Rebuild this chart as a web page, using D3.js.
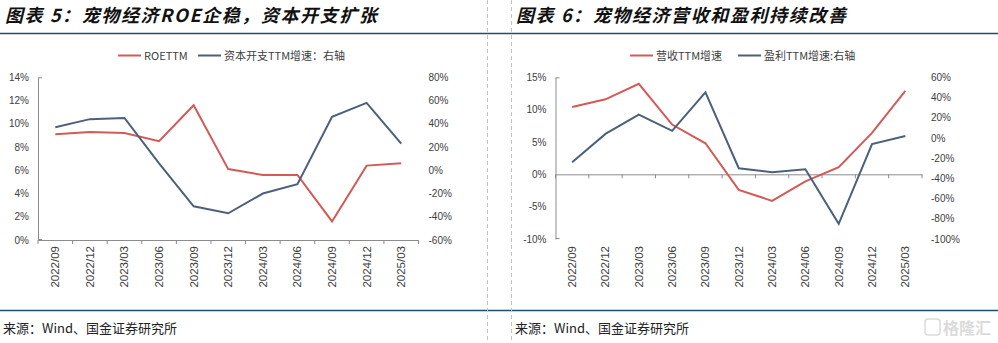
<!DOCTYPE html>
<html><head><meta charset="utf-8">
<script src="https://cdn.jsdelivr.net/npm/d3@7"></script>
<style>body{margin:0;background:#fff}svg{display:block}</style>
</head><body>
<svg id="c" width="998" height="343"></svg>
<script>
const categories = ["2022/09","2022/12","2023/03","2023/06","2023/09","2023/12","2024/03","2024/06","2024/09","2024/12","2025/03"];
// Chart 5
const roeTTM = [9.1, 9.3, 9.2, 8.5, 11.6, 6.1, 5.6, 5.6, 1.6, 6.4, 6.6];
const capexGrowth = [37, 44, 45, 6, -31, -37, -20, -12, 46, 58, 23];
const leftTicks5 = [0,2,4,6,8,10,12,14];
const rightTicks5 = [-60,-40,-20,0,20,40,60,80];
// Chart 6
const revenueGrowth = [10.4, 11.6, 14.0, 7.7, 4.8, -2.4, -4.1, -1.1, 1.1, 6.4, 12.9];
const profitGrowth = [-24, 4, 23, 7, 45, -30, -34, -31, -85, -6, 2];
const leftTicks6 = [-10,-5,0,5,10,15];
const rightTicks6 = [-100,-80,-60,-40,-20,0,20,40,60];

const RED = "#d35a56", BLUE = "#4d6079", NAVY = "#1d4e6e", AXIS = "#8c8c8c", TXT = "#404040";
const CJK = "'Noto Sans CJK SC', 'Noto Sans', sans-serif";
const LAT = "'Liberation Sans', Arial, sans-serif";
const svg = d3.select("#c");

// frame lines
svg.append("line").attr("x1",0).attr("x2",998).attr("y1",33.5).attr("y2",33.5).attr("stroke",NAVY).attr("stroke-width",1.5);
svg.append("line").attr("x1",0).attr("x2",998).attr("y1",310.5).attr("y2",310.5).attr("stroke",NAVY).attr("stroke-width",1.5);
[487.5, 511.5].forEach(x => svg.append("line").attr("x1",x).attr("x2",x).attr("y1",0).attr("y2",343)
  .attr("stroke","#c4c4c4").attr("stroke-dasharray","4,3"));

function title(x, t){
  svg.append("text").attr("x",x).attr("y",22).text(t)
    .attr("font-family",CJK).attr("font-size",18).attr("letter-spacing",1.6).attr("font-weight","bold").attr("font-style","italic").attr("fill","#111");
}
title(5, "图表 5：宠物经济ROE企稳，资本开支扩张");
title(516, "图表 6：宠物经济营收和盈利持续改善");

function source(x){
  svg.append("text").attr("x",x).attr("y",333).text("来源：Wind、国金证券研究所")
    .attr("font-family",CJK).attr("font-size",13).attr("fill","#222");
}
source(3); source(515);

function legend(items){
  items.forEach(it => {
    svg.append("line").attr("x1",it.x).attr("x2",it.x+23).attr("y1",55.5).attr("y2",55.5).attr("stroke",it.c).attr("stroke-width",2);
    svg.append("text").attr("x",it.x+26).attr("y",59.5).text(it.t).attr("font-family",CJK).attr("font-size",11).attr("fill",TXT);
  });
}
legend([{x:118,c:RED,t:"ROETTM"},{x:198,c:BLUE,t:"资本开支TTM增速：右轴"}]);
legend([{x:630,c:RED,t:"营收TTM增速"},{x:738,c:BLUE,t:"盈利TTM增速:右轴"}]);

function chart(o){
  const g = svg.append("g");
  const x = d3.scaleBand().domain(categories).range([o.x0, o.x1]);
  const yl = d3.scaleLinear().domain(o.ld).range([o.yb, o.yt]);
  const yr = d3.scaleLinear().domain(o.rd).range([o.yb, o.yt]);
  // left axis
  const la = g.append("g").attr("transform",`translate(${o.x0},0)`)
    .call(d3.axisLeft(yl).tickValues(o.lt).tickSize(0).tickPadding(9).tickFormat(d=>d+"%"));
  la.select(".domain").attr("stroke",AXIS);
  la.selectAll("text").attr("font-family",LAT).attr("font-size",10).attr("fill",TXT);
  g.append("line").attr("x1",o.x0).attr("x2",o.x0+4).attr("y1",o.yt+0.5).attr("y2",o.yt+0.5).attr("stroke",AXIS);
  g.append("line").attr("x1",o.x0).attr("x2",o.x0+4).attr("y1",o.yb-0.5).attr("y2",o.yb-0.5).attr("stroke",AXIS);
  // right axis (labels only)
  const ra = g.append("g").attr("transform",`translate(${o.x1},0)`)
    .call(d3.axisRight(yr).tickValues(o.rt).tickSize(0).tickPadding(o.rpad).tickFormat(d=>d+"%"));
  ra.select(".domain").remove();
  ra.selectAll("text").attr("font-family",LAT).attr("font-size",10).attr("fill",TXT);
  // x axis at zero of left axis
  const xa = g.append("g").attr("transform",`translate(0,${yl(0)})`)
    .call(d3.axisBottom(x).tickSize(0).tickFormat(""));
  xa.select(".domain").attr("stroke",AXIS);
  const edges = categories.map(c=>x(c)).concat([o.x1]);
  g.selectAll(".tk").data(edges).join("line")
    .attr("x1",d=>d).attr("x2",d=>d).attr("y1",yl(0)).attr("y2",yl(0)+4).attr("stroke",AXIS);
  // x labels (rotated, at bottom)
  g.selectAll(".xl").data(categories).join("text")
    .attr("transform",d=>`translate(${x(d)+x.bandwidth()/2+4},246) rotate(-90)`)
    .attr("text-anchor","end").text(d=>d)
    .attr("font-family",LAT).attr("font-size",11.5).attr("fill",TXT);
  // lines
  const cx = d => x(d)+x.bandwidth()/2;
  g.append("path").datum(o.ls).attr("fill","none").attr("stroke",RED).attr("stroke-width",2)
    .attr("d", d3.line().x((d,i)=>cx(categories[i])).y(d=>yl(d)));
  g.append("path").datum(o.rs).attr("fill","none").attr("stroke",BLUE).attr("stroke-width",2)
    .attr("d", d3.line().x((d,i)=>cx(categories[i])).y(d=>yr(d)));
}

chart({x0:38, x1:418.5, yt:77.3, yb:240, ld:[0,14], rd:[-60,80], lt:leftTicks5, rt:rightTicks5, rpad:10, ls:roeTTM, rs:capexGrowth});
chart({x0:555.5, x1:922, yt:77.3, yb:239, ld:[-10,15], rd:[-100,60], lt:leftTicks6, rt:rightTicks6, rpad:9, ls:revenueGrowth, rs:profitGrowth});

// watermark
const wm = svg.append("g").attr("opacity",0.35);
wm.append("rect").attr("x",925).attr("y",319).attr("width",15).attr("height",16).attr("rx",3).attr("fill","none").attr("stroke","#999").attr("stroke-width",1.5);
wm.append("text").attr("x",943).attr("y",334).text("格隆汇").attr("font-family",CJK).attr("font-size",16).attr("font-weight","bold").attr("fill","#999");
</script>
</body></html>
